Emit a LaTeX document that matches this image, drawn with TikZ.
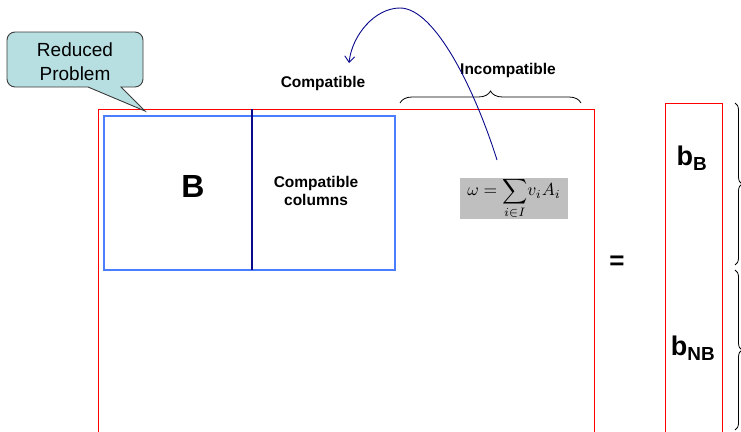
\documentclass[tikz,border=0pt]{standalone}
\usepackage{fontspec}
\setmainfont{Liberation Sans}
\usetikzlibrary{arrows.meta,decorations.pathreplacing}
\definecolor{redline}{RGB}{255,0,0}
\definecolor{blueline}{RGB}{75,125,255}
\definecolor{navyline}{RGB}{10,10,140}
\definecolor{callfill}{RGB}{183,223,226}
\definecolor{callline}{RGB}{60,60,60}
\definecolor{formgray}{RGB}{191,191,191}
\tikzset{
  redbox/.style={draw=redline,line width=0.9pt},
  bluebox/.style={draw=blueline,line width=2.6pt},
  lbl/.style={font=\fontsize{15.5}{18}\selectfont\bfseries,align=center,inner sep=0pt},
  bracestyle/.style={draw=black,line width=0.8pt,decorate,decoration={brace,amplitude=#1}},
}
\begin{document}
\begin{tikzpicture}[x=1pt,y=-1pt]
\useasboundingbox (0,0) rectangle (741,431);
\clip (0,0) rectangle (741,431);
% big matrix
\draw[redbox] (98,109) rectangle (594,445);
% reduced problem block
\draw[bluebox] (104,116) rectangle (395,270);
\draw[draw=navyline,line width=1.6pt] (252,109) -- (252,270);
\node (B) at (193,186) {\fontsize{32}{36}\selectfont\bfseries B};
\node[lbl] (cc) at (316,191) {Compatible\\columns};
% labels above
\node[lbl] (comp) at (323,83) {Compatible};
\node[lbl] (incomp) at (508,70) {Incompatible};
\coordinate (bl) at (400,103);
\coordinate (br) at (581,103);
\draw[bracestyle=12pt] (bl) -- (br);
% callout
\draw[fill=callfill,draw=callline,line width=0.9pt]
  (88,87) [rounded corners=8pt] -- (7,87) -- (7,32) -- (143,32) -- (143,87) [sharp corners] -- (121,87) -- (145,111) -- cycle;
\node[font=\fontsize{19}{24}\selectfont,align=center,inner sep=0pt] (rp) at (75,62) {Reduced\\Problem};
% formula
\node[fill=formgray,minimum width=108pt,minimum height=41pt,inner sep=0pt] (form) at (514,198.5)
  {\scalebox{1.75}{$\omega=\displaystyle\sum_{i\in I}\!v_iA_i$}};
% curved arrow
\coordinate (cs) at (497,160);
\coordinate (ct) at (400,8);
\coordinate (ce) at (349,63);
\draw[navyline,line width=0.9pt,-{Straight Barb[length=6pt,width=10pt]}]
  (cs) .. controls (475,90) and (435,8) .. (ct) .. controls (375,8) and (352,35) .. (ce);
% equals
\node (eq) at (617,263) {\fontsize{26}{30}\selectfont\bfseries =};
% rhs vector
\draw[redbox] (665,103) rectangle (722,445);
\node (bB) at (692,158) {\fontsize{27}{30}\selectfont\bfseries b\textsubscript{B}};
\node (bNB) at (693,348) {\fontsize{27}{30}\selectfont\bfseries b\textsubscript{NB}};
\coordinate (r1t) at (735,103);
\coordinate (r1b) at (735,265);
\coordinate (r2t) at (735,270);
\coordinate (r2b) at (735,430);
\draw[bracestyle=7pt] (r1t) -- (r1b);
\draw[bracestyle=7pt] (r2t) -- (r2b);
\end{tikzpicture}
\end{document}
